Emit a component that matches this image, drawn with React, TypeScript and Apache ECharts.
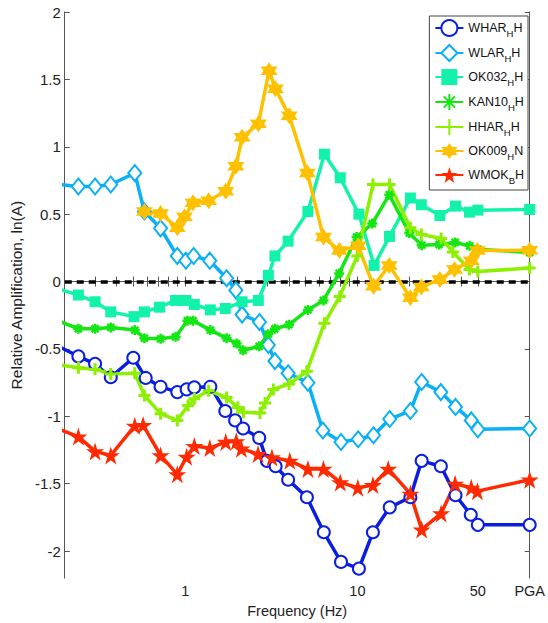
import React, { useEffect, useRef } from 'react';
import * as echarts from 'echarts';

// ---- Data ----
const stations = ['WHAR', 'WLAR', 'OK032', 'KAN10', 'HHAR', 'OK009', 'WMOK'];
const subscripts = ['H', 'H', 'H', 'H', 'H', 'H', 'B'];
const suffixes = ['H', 'H', 'H', 'H', 'H', 'N', 'H'];

const xLabelValues = [1, 10, 50, 100];
const xTickValues = [0.3, 0.4, 0.5, 0.6, 0.7, 0.8, 0.9, 1, 2, 3, 4, 5, 6, 7, 8, 9, 10, 20, 30, 40, 50, 100];
const yTickValues = [-2, -1.5, -1, -0.5, 0, 0.5, 1, 1.5, 2];

const whF = [0.19, 0.24, 0.30, 0.37, 0.50, 0.59, 0.72, 0.90, 1.02, 1.13, 1.40, 1.71, 1.95, 2.17, 2.69, 2.98, 3.35, 3.96, 5.09, 6.38, 8.03, 10.2, 12.3, 15.4, 20.3, 23.6, 30.5, 37.1, 45.5, 50, 100];
const whV = [-0.49, -0.555, -0.61, -0.71, -0.565, -0.715, -0.78, -0.82, -0.80, -0.785, -0.78, -0.96, -1.03, -1.09, -1.16, -1.33, -1.37, -1.47, -1.60, -1.86, -2.08, -2.13, -1.86, -1.675, -1.60, -1.33, -1.37, -1.585, -1.73, -1.805, -1.805];

const wlF = [0.19, 0.24, 0.30, 0.37, 0.51, 0.58, 0.72, 0.90, 1.01, 1.12, 1.39, 1.74, 1.97, 2.14, 2.70, 3.04, 3.32, 3.96, 5.16, 6.30, 8.03, 10.1, 12.4, 15.4, 20.3, 23.6, 30.5, 37.1, 45.8, 50, 100];
const wlV = [0.72, 0.705, 0.705, 0.72, 0.805, 0.52, 0.395, 0.19, 0.155, 0.19, 0.155, 0.025, -0.065, -0.245, -0.30, -0.47, -0.59, -0.68, -0.75, -1.105, -1.19, -1.17, -1.14, -1.02, -0.96, -0.745, -0.82, -0.93, -1.03, -1.095, -1.09];

const okF = [0.19, 0.24, 0.30, 0.37, 0.505, 0.58, 0.71, 0.88, 1.01, 1.13, 1.40, 1.71, 2.14, 2.66, 3.04, 3.32, 3.96, 5.16, 6.43, 7.95, 10.2, 12.5, 15.35, 20.3, 23.5, 30.1, 37.1, 44.7, 50, 100];
const okV = [-0.06, -0.10, -0.15, -0.225, -0.26, -0.225, -0.19, -0.14, -0.14, -0.17, -0.21, -0.20, -0.15, -0.14, 0.045, 0.19, 0.30, 0.52, 0.945, 0.77, 0.50, 0.12, 0.335, 0.62, 0.57, 0.49, 0.56, 0.515, 0.53, 0.535];

const kaF = [0.19, 0.24, 0.30, 0.37, 0.51, 0.58, 0.72, 0.88, 1.03, 1.11, 1.40, 1.74, 1.99, 2.17, 2.69, 3.04, 3.32, 4.01, 5.16, 6.35, 7.83, 9.89, 12.2, 15.3, 20.0, 23.6, 29.8, 36.9, 44.8, 50, 100];
const kaV = [-0.30, -0.35, -0.35, -0.34, -0.36, -0.42, -0.425, -0.41, -0.29, -0.29, -0.36, -0.42, -0.46, -0.51, -0.48, -0.39, -0.35, -0.32, -0.21, -0.14, 0.06, 0.33, 0.43, 0.645, 0.36, 0.27, 0.275, 0.29, 0.265, 0.24, 0.215];

const hhF = [0.19, 0.24, 0.30, 0.37, 0.51, 0.58, 0.72, 0.90, 1.04, 1.13, 1.37, 1.74, 2.02, 2.18, 2.72, 2.91, 3.25, 4.01, 5.09, 6.43, 7.9, 9.98, 12.3, 15.35, 20.3, 23.5, 30.6, 35.8, 44.7, 50, 100];
const hhV = [-0.62, -0.64, -0.65, -0.685, -0.68, -0.845, -0.98, -1.03, -0.92, -0.87, -0.81, -0.86, -0.935, -0.97, -0.975, -0.90, -0.80, -0.76, -0.665, -0.31, -0.11, 0.19, 0.72, 0.72, 0.40, 0.35, 0.32, 0.22, 0.09, 0.075, 0.10];

const o9F = [0.58, 0.72, 0.90, 0.99, 1.11, 1.37, 1.72, 1.97, 2.14, 2.66, 3.07, 3.34, 4.02, 5.12, 6.35, 7.86, 10.1, 12.4, 15.3, 20.3, 23.5, 30.1, 36.6, 45.8, 49.7, 100];
const o9V = [0.52, 0.505, 0.40, 0.48, 0.585, 0.60, 0.67, 0.855, 1.07, 1.17, 1.565, 1.43, 1.23, 0.805, 0.33, 0.23, 0.265, -0.035, 0.12, -0.12, -0.04, 0.015, 0.09, 0.155, 0.23, 0.232];

const wmF = [0.19, 0.24, 0.30, 0.37, 0.51, 0.57, 0.72, 0.90, 1.02, 1.13, 1.39, 1.72, 1.98, 2.12, 2.65, 3.19, 4.05, 5.16, 6.35, 7.95, 10.05, 12.3, 15.1, 20.3, 23.6, 30.6, 36.9, 45.8, 49.7, 100];
const wmV = [-1.10, -1.15, -1.26, -1.29, -1.07, -1.065, -1.29, -1.43, -1.30, -1.22, -1.235, -1.19, -1.185, -1.24, -1.28, -1.305, -1.33, -1.39, -1.39, -1.49, -1.53, -1.51, -1.39, -1.575, -1.84, -1.72, -1.50, -1.53, -1.555, -1.47];

const freqs = [whF, wlF, okF, kaF, hhF, o9F, wmF];
const values = [whV, wlV, okV, kaV, hhV, o9V, wmV];

// ---- Styles ----
const colors = ['#0a1ee0', '#0ab0f5', '#12f2aa', '#14e614', '#8cf000', '#ffc000', '#ff2a00'];
const FONT = 'Liberation Sans, Arial, sans-serif';

function starPath(n: number, inner: number): string {
  const pts: string[] = [];
  for (let i = 0; i < n * 2; i++) {
    const r = i % 2 === 0 ? 50 : 50 * inner;
    const a = -Math.PI / 2 + (i * Math.PI) / n;
    pts.push(`${(50 + r * Math.cos(a)).toFixed(2)},${(50 + r * Math.sin(a)).toFixed(2)}`);
  }
  return 'path://M' + pts.join('L') + 'Z';
}
const asteriskPath = 'path://M0,5L10,5M5,0L5,10M1.5,1.5L8.5,8.5M1.5,8.5L8.5,1.5';
const plusPath = 'path://M0,5L10,5M5,0L5,10';

const symbols: any[] = ['emptyCircle', 'emptyDiamond', 'rect', asteriskPath, plusPath, starPath(6, 0.577), starPath(5, 0.382)];
const symbolSizes: any[] = [12, [13, 16], 11, 10, 12, 17, 18];
const borderWidths = [3, 3, 0, 2.5, 3, 0, 0];

const seriesNames = stations.map((s, i) => `${s}_${subscripts[i]}${suffixes[i]}`);

export default function App() {
  const ref = useRef<HTMLDivElement>(null);
  useEffect(() => {
    const chart = echarts.init(ref.current!, null, { renderer: 'svg' });
    const axisLineStyle = { color: '#555', width: 1 };
    const series: any[] = stations.map((s, i) => {
      const c = colors[i];
      const ser: any = {
        name: seriesNames[i],
        type: 'line',
        data: freqs[i].map((f, j) => [f, values[i][j]]),
        symbol: symbols[i],
        symbolSize: symbolSizes[i],
        showAllSymbol: true,
        clip: true,
        lineStyle: { color: c, width: 3.5 },
        itemStyle: { color: c, borderColor: c, borderWidth: borderWidths[i] },
        emphasis: { disabled: true },
      };
      if (i === 0) {
        ser.markLine = {
          silent: true,
          symbol: ['none', 'none'],
          z: 1,
          label: { show: false },
          lineStyle: { color: '#000', type: [7, 5], width: 3.5 },
          data: [{ yAxis: 0 }],
        };
      }
      return ser;
    });

    chart.setOption({
      animation: false,
      backgroundColor: '#fff',
      grid: { left: 63, top: 12, right: 15, bottom: 39, containLabel: false },
      legend: {
        orient: 'vertical',
        right: 20,
        top: 16,
        padding: [3, 4, 5, 5],
        itemGap: 6,
        itemWidth: 28,
        itemHeight: 20,
        backgroundColor: '#fff',
        borderColor: '#444',
        borderWidth: 1,
        data: seriesNames,
        formatter: (name: string) => {
          const i = seriesNames.indexOf(name);
          return `{n|${stations[i]}}{s|${subscripts[i]}}{n|${suffixes[i]}}`;
        },
        textStyle: {
          fontFamily: FONT,
          color: '#111',
          rich: {
            n: { fontFamily: FONT, fontSize: 12.5, lineHeight: 20, color: '#111' },
            s: { fontFamily: FONT, fontSize: 9.5, lineHeight: 10, verticalAlign: 'bottom', color: '#111' },
          },
        },
      },
      xAxis: [
        {
          type: 'log',
          logBase: 10,
          min: 0.2,
          max: 100,
          position: 'bottom',
          name: 'Frequency (Hz)',
          nameLocation: 'middle',
          nameGap: 22,
          nameTextStyle: { fontFamily: FONT, fontSize: 14.5, color: '#222' },
          axisLine: { show: true, lineStyle: axisLineStyle },
          axisTick: { show: true, inside: true, length: 5, lineStyle: axisLineStyle, customValues: xTickValues },
          axisLabel: {
            show: true,
            margin: 5,
            fontFamily: FONT,
            fontSize: 14.5,
            color: '#222',
            customValues: xLabelValues,
            formatter: (v: number) => (Math.abs(v - 100) < 1e-6 ? 'PGA' : String(Math.round(v))),
          },
          splitLine: { show: false },
          minorTick: { show: false },
        },
        {
          type: 'log',
          logBase: 10,
          min: 0.2,
          max: 100,
          position: 'top',
          axisLine: { show: true, lineStyle: axisLineStyle },
          axisTick: { show: true, inside: true, length: 5, lineStyle: axisLineStyle, customValues: xTickValues },
          axisLabel: { show: false },
          splitLine: { show: false },
        },
      ],
      yAxis: [
        {
          type: 'value',
          min: -2.2,
          max: 2,
          position: 'left',
          name: 'Relative Amplification, ln(A)',
          nameLocation: 'middle',
          nameGap: 34,
          nameTextStyle: { fontFamily: FONT, fontSize: 15.5, color: '#222' },
          axisLine: { show: true, lineStyle: axisLineStyle },
          axisTick: { show: true, inside: true, length: 5, lineStyle: axisLineStyle, customValues: yTickValues },
          axisLabel: {
            show: true,
            margin: 4,
            fontFamily: FONT,
            fontSize: 15,
            color: '#222',
            customValues: yTickValues,
            formatter: (v: number) => String(Math.round(v * 10) / 10),
          },
          splitLine: { show: false },
        },
        {
          type: 'value',
          min: -2.2,
          max: 2,
          position: 'right',
          axisLine: { show: true, lineStyle: axisLineStyle },
          axisTick: { show: true, inside: true, length: 5, lineStyle: axisLineStyle, customValues: yTickValues },
          axisLabel: { show: false },
          splitLine: { show: false },
        },
      ],
      series,
    });
    return () => chart.dispose();
  }, []);
  return <div ref={ref} style={{ position: 'absolute', left: 0, top: 0, width: 548, height: 623 }} />;
}
